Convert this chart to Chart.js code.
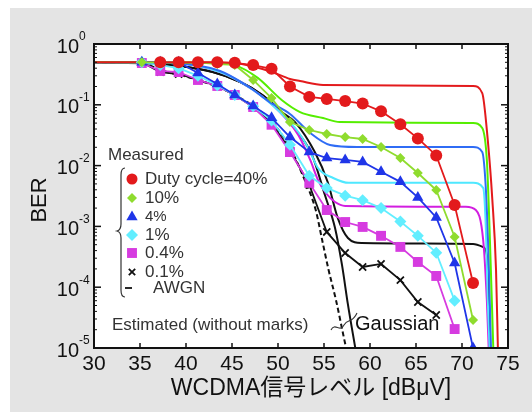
<!DOCTYPE html>
<html><head><meta charset="utf-8">
<script src="https://cdn.jsdelivr.net/npm/chart.js@4.4.0/dist/chart.umd.min.js"></script>
<style>
html,body{margin:0;padding:0;background:#fff;}
#bg{position:absolute;left:10px;top:8px;width:522px;height:404px;background:#e4e4e4;}
#c{position:absolute;left:0;top:0;width:532px;height:412px;}
</style></head><body>
<div id="bg"></div>
<canvas id="c" width="532" height="412"></canvas>
<script>
// ---------- data ----------
const xTicks = [30,35,40,45,50,55,60,65,70,75];
const yExps = [0,-1,-2,-3,-4,-5];
const xTitle = 'WCDMA信号レベル [dBμV]';
const yTitle = 'BER';

// measured (marked) series, shared x positions [dBμV]
const measX = [35.2,37.2,39.2,41.3,43.4,45.3,47.3,49.3,51.3,53.4,55.3,57.3,59.2,61.2,63.3,65.2,67.2,69.2,71.2];
const meas40  = [null,0.5,0.5,0.5,0.5,0.49,0.45,0.39,0.2,0.135,0.125,0.115,0.105,0.078,0.048,0.028,0.0147,0.00225,0.000117];
const meas10  = [0.5,0.5,0.5,0.5,0.469,0.452,0.256,0.129,0.052,0.0385,0.0331,0.0295,0.0274,0.0202,0.0133,0.00755,0.00397,0.00067,0.0000289];
const meas4   = [0.5,0.5,0.5,0.333,0.22,0.145,0.0955,0.061,0.0295,0.0167,0.0133,0.0124,0.0115,0.0079,0.0054,0.003,0.0014,0.00025,0.00001];
const meas1   = [0.5,0.45,0.4,0.3,0.21,0.145,0.095,0.055,0.022,0.0068,0.0043,0.0032,0.0027,0.002,0.0012,0.0007,0.00037,0.00006,null];
const meas04  = [0.487,0.36,0.346,0.256,0.204,0.145,0.092,0.047,0.0167,0.0052,0.00186,0.00118,0.00098,0.0007,0.00046,0.00026,0.000153,0.0000205,null];
const meas01  = [0.5,0.346,0.321,0.256,0.204,0.145,0.092,0.05,0.0181,0.0048,0.00081,0.000365,0.000215,0.000241,0.000131,0.0000571,0.0000349,null,null];

// estimated curves (without marks)
const est40X = [30,41.5,45.3,47.5,49.35,51.3,52.4,54.9,71.2,72.2,72.8,73.3,73.7,73.9];
const est40Y = [0.5,0.5,0.487,0.418,0.346,0.266,0.246,0.212,0.204,0.156,0.0264,0.0027,0.00019,0.00001];
const est10X = [30,43.0,45.3,47.8,50.4,52.4,54.9,56.7,71.2,72.2,72.7,73.0,73.4];
const est10Y = [0.5,0.49,0.45,0.277,0.12,0.076,0.0607,0.052,0.05,0.0415,0.0124,0.00087,0.00001];
const est4X  = [30,38.3,43.7,47.0,49.1,51.3,53.5,55.65,58.6,71.2,72.2,72.6,72.9,73.15];
const est4Y  = [0.5,0.487,0.36,0.189,0.111,0.0706,0.0344,0.0218,0.0202,0.0202,0.0167,0.00397,0.00028,0.00001];
const est1X  = [30,38.3,43.7,47.3,50.2,52.2,53.4,54.35,56.0,57.7,71.2,72.3,72.6,72.8,73.0];
const est1Y  = [0.5,0.487,0.346,0.175,0.076,0.0357,0.0181,0.0091,0.00625,0.0052,0.0052,0.0043,0.00087,0.000062,0.00001];
const est04X = [30,38.3,43.7,47.3,50.2,52.2,53.5,54.35,55.2,56.2,57.3,70.4,71.5,72.3,72.7,72.9];
const est04Y = [0.5,0.487,0.346,0.175,0.076,0.0319,0.0124,0.0058,0.00354,0.00252,0.00217,0.0021,0.00186,0.0006,0.000062,0.00001];
const est01X = [30,38.3,42.9,45.9,48.3,50.4,51.85,54.0,55.4,56.5,57.6,59.1,71.2,72.3,72.7,72.9,73.0];
const est01Y = [0.5,0.452,0.346,0.237,0.145,0.076,0.052,0.0167,0.00537,0.00137,0.000645,0.000533,0.000514,0.000458,0.00034,0.000062,0.00001];
const gaussX = [30,35.0,38.3,42.9,45.9,48.3,50.2,51.5,53.7,55.1,56.2,56.96,57.6,58.4];
const gaussY = [0.5,0.5,0.452,0.346,0.237,0.145,0.082,0.0466,0.0149,0.00328,0.00094,0.00023,0.000052,0.00001];
const awgnX  = [30,35.2,37.2,41.3,45.3,49.35,51.3,52.9,54.1,54.8,55.5,56.3,57.1,57.4];
const awgnY  = [0.5,0.487,0.374,0.256,0.145,0.052,0.0195,0.0058,0.00186,0.000597,0.000192,0.0000616,0.0000164,0.00001];

const legendHead = 'Measured';
const legendLabels = ['Duty cycle=40%','10%','4%','1%','0.4%','0.1%','AWGN'];
const estNote = 'Estimated (without marks)';
const gaussNote = 'Gaussian';

// ---------- styling ----------
const FONT = '"Liberation Sans", Arial, sans-serif';
const FONTJ = '"Liberation Sans", "Noto Sans CJK JP", sans-serif';
const C = {
  red:'#e31a1c', grnEst:'#55ee00', grn:'#8fdc2e', bluEst:'#2f6cf5', blu:'#1f35e8',
  cyaEst:'#4fe8ff', cya:'#62eeff', magEst:'#d21ee0', mag:'#d63be0', blk:'#111111'
};

function pts(xs, ys){ const o=[]; xs.forEach((x,i)=>{ if(ys[i]!=null) o.push({x:x,y:ys[i]}); }); return o; }

function measDS(ys, color, style, r, bw){
  return { data: pts(measX, ys), borderColor: color, backgroundColor: color, borderWidth: 1.8,
    pointStyle: style, pointRadius: r, pointBorderWidth: bw, pointBorderColor: color,
    pointBackgroundColor: color, tension: 0, order: 0 };
}
function estDS(xs, ys, color, dash){
  return { data: pts(xs, ys), borderColor: color, borderWidth: 2, pointRadius: 0,
    cubicInterpolationMode: 'monotone', borderDash: dash || [], order: 1 };
}

const datasets = [
  measDS(meas40, C.red, 'circle', 6, 0),
  measDS(meas10, C.grn, 'rectRot', 5, 0),
  measDS(meas4, C.blu, 'triangle', 6.5, 0),
  measDS(meas1, C.cya, 'rectRot', 6, 0),
  measDS(meas04, C.mag, 'rect', 7, 0),
  measDS(meas01, C.blk, 'crossRot', 5, 1.8),
  estDS(est40X, est40Y, C.red),
  estDS(est10X, est10Y, C.grnEst),
  estDS(est4X, est4Y, C.bluEst),
  estDS(est1X, est1Y, C.cyaEst),
  estDS(est04X, est04Y, C.magEst),
  estDS(est01X, est01Y, C.blk),
  estDS(gaussX, gaussY, C.blk),
  estDS(awgnX, awgnY, C.blk, [5,3])
];

function marker(ctx, style, x, y, r, color){
  ctx.save(); ctx.fillStyle = color; ctx.strokeStyle = color; ctx.beginPath();
  if (style==='circle'){ ctx.arc(x,y,r,0,Math.PI*2); ctx.fill(); }
  else if (style==='rectRot'){ ctx.moveTo(x-r,y); ctx.lineTo(x,y-r); ctx.lineTo(x+r,y); ctx.lineTo(x,y+r); ctx.closePath(); ctx.fill(); }
  else if (style==='triangle'){ ctx.moveTo(x,y-r); ctx.lineTo(x+r*0.866,y+r/2); ctx.lineTo(x-r*0.866,y+r/2); ctx.closePath(); ctx.fill(); }
  else if (style==='rect'){ const s=r*Math.SQRT1_2; ctx.rect(x-s,y-s,2*s,2*s); ctx.fill(); }
  else if (style==='crossRot'){ const s=r*Math.SQRT1_2; ctx.lineWidth=1.8; ctx.moveTo(x-s,y-s); ctx.lineTo(x+s,y+s); ctx.moveTo(x+s,y-s); ctx.lineTo(x-s,y+s); ctx.stroke(); }
  ctx.restore();
}

const deco = {
  id: 'deco',
  beforeDraw(chart){
    const {ctx, chartArea:a} = chart;
    ctx.save(); ctx.fillStyle = '#fff'; ctx.fillRect(a.left, a.top, a.right-a.left, a.bottom-a.top); ctx.restore();
  },
  afterDatasetsDraw(chart){
    const {ctx, chartArea:a, scales:{x, y}} = chart;
    ctx.save();
    const ln = (x1,y1,x2,y2)=>{ ctx.beginPath(); ctx.moveTo(x1,y1); ctx.lineTo(x2,y2); ctx.stroke(); };
    ctx.strokeStyle = '#111'; ctx.lineWidth = 1.5;
    xTicks.forEach(v=>{ const px = x.getPixelForValue(v); ln(px,a.bottom,px,a.bottom-5); ln(px,a.top,px,a.top+5); });
    yExps.forEach(e=>{
      for (let m=1;m<=9;m++){
        const val = m*Math.pow(10,e); if (val>1.0001) break;
        const py = y.getPixelForValue(val); const L = m===1?7:3;
        ctx.lineWidth = m===1?1.5:1;
        ln(a.left,py,a.left+L,py); ln(a.right,py,a.right-L,py);
        if (e===0) break;
      }
    });
    ctx.lineWidth = 2; ctx.strokeRect(a.left, a.top, a.right-a.left, a.bottom-a.top);

    // y tick labels 10^n
    ctx.fillStyle = '#111'; ctx.textBaseline = 'middle';
    yExps.forEach(e=>{
      const py = y.getPixelForValue(Math.pow(10,e));
      ctx.font = '20px '+FONT; ctx.textAlign = 'right'; ctx.fillText('10', 79, py+3);
      ctx.font = '12px '+FONT; ctx.textAlign = 'left'; ctx.fillText(e===0?'0':'-'+(-e), 79, py-7);
    });

    // axis titles
    ctx.fillStyle = '#111'; ctx.textAlign = 'center'; ctx.textBaseline = 'middle';
    ctx.font = '23px '+FONTJ; ctx.fillText(xTitle, 311, 389);
    ctx.save(); ctx.translate(40, 200); ctx.rotate(-Math.PI/2);
    ctx.font = '22px '+FONT; ctx.fillText(yTitle, 0, 0); ctx.restore();

    // legend (text inside the plot)
    ctx.fillStyle = '#333'; ctx.textAlign = 'left'; ctx.textBaseline = 'middle';
    ctx.font = '17px '+FONT; ctx.fillText(legendHead, 108, 155);
    ctx.strokeStyle = '#333'; ctx.lineWidth = 1.2; ctx.beginPath();
    ctx.moveTo(125,168); ctx.quadraticCurveTo(121,168,121,175); ctx.lineTo(121,224);
    ctx.quadraticCurveTo(121,230,117,231); ctx.quadraticCurveTo(121,232,121,238); ctx.lineTo(121,290);
    ctx.quadraticCurveTo(121,297,125,297); ctx.stroke();
    const rows = [179,198,217,235,253,272,288];
    const mk = [['circle',5.5,C.red],['rectRot',5,C.grn],['triangle',6.5,C.blu],['rectRot',6,C.cya],['rect',7,C.mag],['crossRot',4.5,C.blk]];
    legendLabels.forEach((t,i)=>{
      if (i<6){ marker(ctx, mk[i][0], 132, rows[i], mk[i][1], mk[i][2]); }
      else { ctx.strokeStyle='#111'; ctx.lineWidth=1.8; ln(125,rows[i],132,rows[i]); }
      ctx.fillStyle = '#333';
      ctx.font = (i===2 ? '15px ' : '17px ')+FONT;
      ctx.fillText(t, i===6?153:145, rows[i]);
    });
    ctx.font = '17px '+FONT; ctx.fillText(estNote, 112, 325);
    ctx.fillStyle = '#111'; ctx.font = '20px '+FONT; ctx.fillText(gaussNote, 355, 324);
    ctx.strokeStyle = '#333'; ctx.lineWidth = 1.1; ctx.beginPath();
    ctx.moveTo(331,330); ctx.bezierCurveTo(335,322,340,333,344,325); ctx.bezierCurveTo(348,318,352,324,357,313);
    ctx.stroke();
    ctx.restore();
  }
};

new Chart(document.getElementById('c'), {
  type: 'line',
  data: { datasets },
  options: {
    responsive: false, animation: false, devicePixelRatio: 1,
    layout: { padding: { top: 44, right: 24, left: 0, bottom: 0 } },
    plugins: { legend: { display: false }, tooltip: { enabled: false } },
    scales: {
      x: { type: 'linear', min: 30, max: 75,
        afterBuildTicks: s => { s.ticks = xTicks.map(v => ({ value: v })); },
        ticks: { font: { family: FONT, size: 21 }, color: '#111', padding: 4, maxRotation: 0, autoSkip: false },
        grid: { display: false, drawTicks: false }, border: { display: false },
        title: { display: false },
        afterFit: s => { s.height = 64; } },
      y: { type: 'logarithmic', min: 1e-5, max: 1,
        ticks: { display: false }, grid: { display: false, drawTicks: false }, border: { display: false },
        title: { display: false },
        afterFit: s => { s.width = 94; } }
    }
  },
  plugins: [deco]
});
</script></body></html>
